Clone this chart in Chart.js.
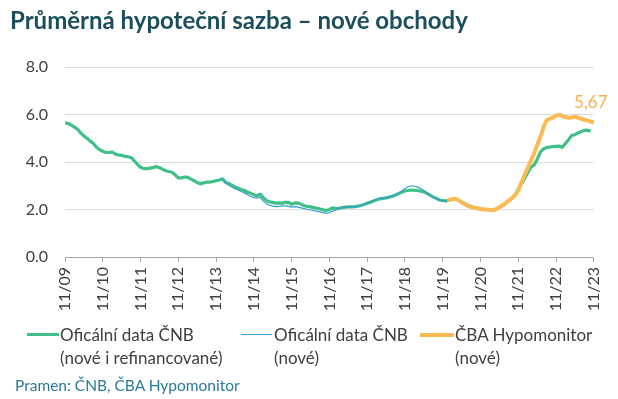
<!DOCTYPE html>
<html>
<head>
<meta charset="utf-8">
<script src="https://cdn.jsdelivr.net/npm/chart.js@4"></script>
<style>
  html, body { margin:0; padding:0; background:#fff; }
  #wrap { position:relative; width:618px; height:399px; overflow:hidden; font-family:"Lato","Open Sans",sans-serif; }
  canvas { position:absolute; left:0; top:0; }
  #title { position:absolute; left:10px; top:5px; font-size:24px; font-weight:bold; color:#1b4f5e; white-space:nowrap; }
  .leg { position:absolute; top:323px; font-size:17px; color:#404040; line-height:23px; white-space:nowrap; }
  .leg i { position:absolute; display:block; }
  #source { position:absolute; left:15px; top:376px; font-size:15.5px; color:#2a7a99; white-space:nowrap; }
</style>
</head>
<body>
<div id="wrap">
  <canvas id="c" width="618" height="399"></canvas>
  <div id="title">Průměrná hypoteční sazba – nové obchody</div>
  <div class="leg" style="left:60px"><i style="left:-33px;width:32px;height:3px;top:10px;background:#40c088"></i>Oficální data ČNB<br>(nové i refinancované)</div>
  <div class="leg" style="left:274px"><i style="left:-33px;width:31px;height:1px;top:11px;background:#33a0d2"></i>Oficální data ČNB<br>(nové)</div>
  <div class="leg" style="left:455px"><i style="left:-35px;width:34px;height:4px;top:10px;background:#fcba54"></i>ČBA Hypomonitor<br>(nové)</div>
  <div id="source">Pramen: ČNB, ČBA Hypomonitor</div>
</div>
<script>
// x axis: months since 11/2009 (0 = 11/09, 168 = 11/23)
const tickLabels = ["11/09","11/10","11/11","11/12","11/13","11/14","11/15","11/16","11/17","11/18","11/19","11/20","11/21","11/22","11/23"];
const yTicks = [0, 2, 4, 6, 8];

// Oficální data ČNB (nové i refinancované), monthly from 11/09
const greenStart = 0;
const greenValues = [
  5.65,5.62,5.55,5.47,5.38,5.22,5.10,5.00,4.88,4.78,4.62,4.52,
  4.45,4.40,4.40,4.42,4.33,4.30,4.28,4.24,4.22,4.19,4.05,3.90,
  3.78,3.72,3.72,3.74,3.76,3.81,3.76,3.70,3.63,3.60,3.57,3.46,
  3.33,3.33,3.37,3.35,3.28,3.21,3.14,3.08,3.12,3.15,3.15,3.18,
  3.21,3.24,3.29,3.15,3.10,3.02,2.95,2.90,2.84,2.80,2.73,2.68,
  2.62,2.58,2.65,2.50,2.38,2.32,2.30,2.27,2.28,2.27,2.30,2.30,
  2.22,2.27,2.28,2.22,2.16,2.13,2.11,2.08,2.05,2.02,1.99,1.96,
  2.00,2.07,2.04,2.05,2.08,2.10,2.11,2.11,2.12,2.14,2.17,2.21,
  2.26,2.31,2.36,2.41,2.45,2.47,2.49,2.52,2.56,2.61,2.67,2.73,
  2.78,2.80,2.82,2.81,2.80,2.77,2.74,2.68,2.60,2.52,2.46,2.40,
  2.37,2.36,2.40,2.42,2.43,2.40,2.32,2.25,2.18,2.13,2.08,2.05,
  2.03,2.01,2.00,1.98,1.97,2.02,2.09,2.17,2.27,2.37,2.47,2.62,
  2.85,3.08,3.30,3.55,3.78,3.87,4.10,4.42,4.55,4.61,4.63,4.65,
  4.66,4.67,4.62,4.78,4.94,5.12,5.15,5.22,5.28,5.33,5.34,5.30
];

// Oficální data ČNB (nové), monthly from 01/14
const blueStart = 50;
const blueValues = [
  3.29,3.10,3.03,2.95,2.88,2.82,2.76,2.70,2.62,2.55,
  2.50,2.48,2.52,2.35,2.24,2.18,2.14,2.12,2.13,2.15,2.15,2.13,
  2.10,2.12,2.10,2.07,2.04,2.01,1.98,1.95,1.93,1.90,1.87,1.84,
  1.87,1.93,1.98,2.03,2.07,2.09,2.10,2.10,2.11,2.14,2.17,2.22,
  2.27,2.32,2.37,2.42,2.46,2.48,2.50,2.53,2.57,2.63,2.70,2.78,
  2.88,2.96,3.00,2.98,2.94,2.88,2.80,2.72,2.62,2.54,2.47,2.41,
  2.37,2.36,2.39,2.43,2.44,2.40,2.31,2.23,2.16,2.11,2.08,2.05,
  2.02,2.00,1.99,1.97,1.96,2.01,2.09,2.18,2.27,2.37,2.49,2.62,
  2.84,3.18,3.48,3.78,4.08,4.38,4.73,5.08,5.48,5.80,5.86,5.91,
  5.99,6.03,5.98,5.93,5.90,5.91,5.95,5.90,5.86,5.82,5.78,5.75,5.72
];

// ČBA Hypomonitor (nové), monthly from 01/20
const orangeStart = 122;
const orangeValues = [
  2.40,2.44,2.45,2.40,2.30,2.22,2.15,2.10,2.07,2.05,
  2.02,2.00,2.00,1.98,1.97,2.02,2.10,2.18,2.27,2.37,2.48,2.60,
  2.80,3.15,3.45,3.75,4.05,4.35,4.70,5.05,5.45,5.76,5.82,5.87,
  5.95,5.99,5.93,5.89,5.86,5.87,5.91,5.86,5.82,5.78,5.74,5.70,5.67
];

const toPoints = (start, arr) => arr.map((v, i) => ({ x: start + i, y: v }));

const lastLabel = {
  id: 'lastLabel',
  afterDatasetsDraw(chart) {
    const meta = chart.getDatasetMeta(0);
    const pt = meta.data[meta.data.length - 1];
    const v = orangeValues[orangeValues.length - 1];
    const ctx = chart.ctx;
    ctx.save();
    ctx.font = '17px Lato, "Open Sans", sans-serif';
    ctx.fillStyle = '#fcb04a';
    ctx.textAlign = 'center';
    ctx.textBaseline = 'middle';
    ctx.fillText(v.toFixed(2).replace('.', ','), pt.x - 3, pt.y - 20);
    ctx.restore();
  }
};

new Chart(document.getElementById('c'), {
  type: 'line',
  data: {
    datasets: [
      { label: 'ČBA Hypomonitor (nové)', data: toPoints(orangeStart, orangeValues), borderColor: '#fcba54', borderWidth: 4, pointRadius: 0, tension: 0, borderCapStyle: 'round', borderJoinStyle: 'round' },
      { label: 'Oficální data ČNB (nové)', data: toPoints(blueStart, blueValues), borderColor: '#33a0d2', borderWidth: 1.2, pointRadius: 0, tension: 0 },
      { label: 'Oficální data ČNB (nové i refinancované)', data: toPoints(greenStart, greenValues), borderColor: '#40c088', borderWidth: 3.2, pointRadius: 0, tension: 0, borderJoinStyle: 'round' }
    ]
  },
  options: {
    responsive: false,
    animation: false,
    layout: { padding: { top: 67, right: 21, left: 0, bottom: 0 } },
    plugins: { legend: { display: false }, tooltip: { enabled: false }, title: { display: false } },
    scales: {
      x: {
        type: 'linear', min: 0, max: 168,
        afterBuildTicks(scale) { scale.ticks = tickLabels.map((_, i) => ({ value: i * 12 })); },
        afterFit(scale) { scale.height = 142; },
        ticks: {
          autoSkip: false, minRotation: 90, maxRotation: 90, padding: 5,
          color: '#404040', font: { family: 'Lato, "Open Sans", sans-serif', size: 16 },
          callback: (v) => tickLabels[Math.round(v / 12)]
        },
        grid: { display: true, drawOnChartArea: false, drawTicks: true, tickLength: 5, color: '#a6a6a6' },
        border: { display: true, color: '#a6a6a6', width: 1 }
      },
      y: {
        min: 0, max: 8,
        afterBuildTicks(scale) { scale.ticks = yTicks.map(v => ({ value: v })); },
        afterFit(scale) { scale.width = 65; },
        ticks: {
          padding: 17, color: '#404040', font: { family: 'Lato, "Open Sans", sans-serif', size: 16 },
          callback: (v) => v.toFixed(1)
        },
        grid: { color: '#dcdcdc', drawTicks: false, lineWidth: 1 },
        border: { display: false }
      }
    }
  },
  plugins: [lastLabel]
});
</script>
</body>
</html>
